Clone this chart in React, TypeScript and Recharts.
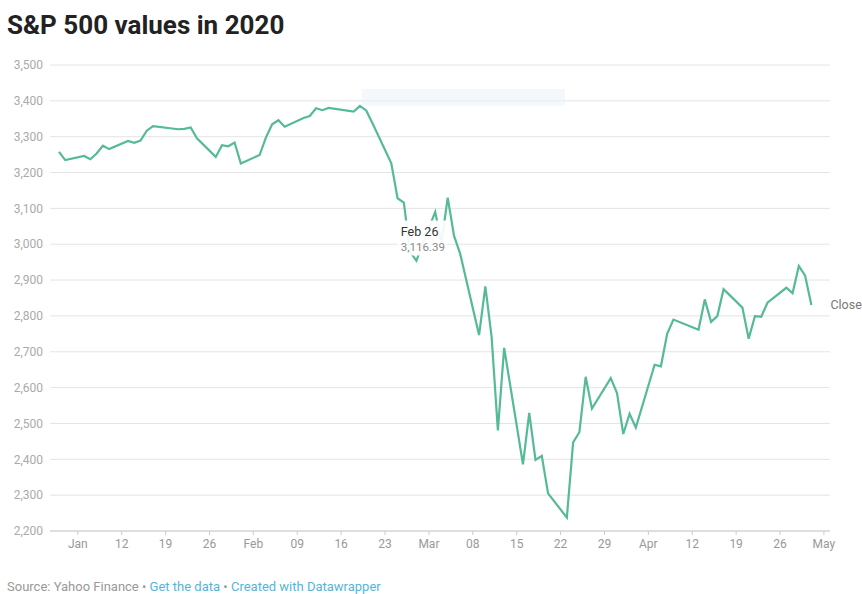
import React from 'react';
import { LineChart, Line, XAxis, YAxis, CartesianGrid, ReferenceDot, ReferenceArea, LabelList } from 'recharts';

const dates = [
  '2020-01-02', '2020-01-03', '2020-01-06', '2020-01-07', '2020-01-08', '2020-01-09', '2020-01-10',
  '2020-01-13', '2020-01-14', '2020-01-15', '2020-01-16', '2020-01-17', '2020-01-21', '2020-01-22',
  '2020-01-23', '2020-01-24', '2020-01-27', '2020-01-28', '2020-01-29', '2020-01-30', '2020-01-31',
  '2020-02-03', '2020-02-04', '2020-02-05', '2020-02-06', '2020-02-07', '2020-02-10', '2020-02-11',
  '2020-02-12', '2020-02-13', '2020-02-14', '2020-02-18', '2020-02-19', '2020-02-20', '2020-02-21',
  '2020-02-24', '2020-02-25', '2020-02-26', '2020-02-27', '2020-02-28', '2020-03-02', '2020-03-03',
  '2020-03-04', '2020-03-05', '2020-03-06', '2020-03-09', '2020-03-10', '2020-03-11', '2020-03-12',
  '2020-03-13', '2020-03-16', '2020-03-17', '2020-03-18', '2020-03-19', '2020-03-20', '2020-03-23',
  '2020-03-24', '2020-03-25', '2020-03-26', '2020-03-27', '2020-03-30', '2020-03-31', '2020-04-01',
  '2020-04-02', '2020-04-03', '2020-04-06', '2020-04-07', '2020-04-08', '2020-04-09', '2020-04-13',
  '2020-04-14', '2020-04-15', '2020-04-16', '2020-04-17', '2020-04-20', '2020-04-21', '2020-04-22',
  '2020-04-23', '2020-04-24', '2020-04-27', '2020-04-28', '2020-04-29', '2020-04-30', '2020-05-01',
];

const closes = [
  3257.85, 3234.85, 3246.28, 3237.18, 3253.05, 3274.7, 3265.35,
  3288.13, 3283.15, 3289.29, 3316.81, 3329.62, 3320.79, 3321.75,
  3325.54, 3295.47, 3243.63, 3276.24, 3273.4, 3283.66, 3225.52,
  3248.92, 3297.59, 3334.69, 3345.78, 3327.71, 3352.09, 3357.75,
  3379.45, 3373.94, 3380.16, 3370.29, 3386.15, 3373.23, 3337.75,
  3225.89, 3128.21, 3116.39, 2978.76, 2954.22, 3090.23, 3003.37,
  3130.12, 3023.94, 2972.37, 2746.56, 2882.23, 2741.38, 2480.64,
  2711.02, 2386.13, 2529.19, 2398.1, 2409.39, 2304.92, 2237.4,
  2447.33, 2475.56, 2630.07, 2541.47, 2626.65, 2584.59, 2470.5,
  2526.9, 2488.65, 2663.68, 2659.41, 2749.98, 2789.82, 2761.63,
  2846.06, 2783.36, 2799.55, 2874.56, 2823.16, 2736.56, 2799.31,
  2797.8, 2836.74, 2878.48, 2863.39, 2939.51, 2912.43, 2830.71,
];

const tickDates = [
  '2020-01-05', '2020-01-12', '2020-01-19', '2020-01-26', '2020-02-02', '2020-02-09',
  '2020-02-16', '2020-02-23', '2020-03-01', '2020-03-08', '2020-03-15', '2020-03-22',
  '2020-03-29', '2020-04-05', '2020-04-12', '2020-04-19', '2020-04-26', '2020-05-03',
];
const tickLabels = ['Jan', '12', '19', '26', 'Feb', '09', '16', '23', 'Mar', '08', '15', '22', '29', 'Apr', '12', '19', '26', 'May'];
const yTicks = [2200, 2300, 2400, 2500, 2600, 2700, 2800, 2900, 3000, 3100, 3200, 3300, 3400, 3500];

const highlight = { date: '2020-02-26', label: 'Feb 26', value: 3116.39 };

const dayOf = (s: string) => {
  const [y, m, d] = s.split('-').map(Number);
  return (Date.UTC(y, m - 1, d) - Date.UTC(2020, 0, 2)) / 86400000;
};

const chartData = dates.map((d, i) => ({
  day: dayOf(d),
  close: closes[i],
  end: i === dates.length - 1 ? 'Close' : '',
}));
const tickDays = tickDates.map(dayOf);

const COLOR = '#55ba97';

const EndLabel = (props: any) => {
  const { x, y, value } = props;
  if (!value) return null;
  return (
    <text x={x + 19} y={y} dy={4} fontSize={12.5} fill="#777">
      {value}
    </text>
  );
};

const Annotation = (props: any) => {
  const vb = props.viewBox || {};
  const cx = vb.x + (vb.width || 0) / 2;
  const cy = vb.y + (vb.height || 0) / 2;
  return (
    <g>
      <rect x={cx - 6} y={cy + 18} width={49} height={35} fill="#fff" fillOpacity={0.92} />
      <text x={cx - 3} y={cy + 33} fontSize={12.5} fill="#333">{highlight.label}</text>
      <text x={cx - 3} y={cy + 48} fontSize={11.5} fill="#888">
        {highlight.value.toLocaleString('en-US', { minimumFractionDigits: 2 })}
      </text>
    </g>
  );
};

export default function App() {
  return (
    <div style={{ position: 'absolute', left: 0, top: 0, width: 862, height: 594, background: '#fff', fontFamily: 'Roboto, sans-serif' }}>
      <div style={{ position: 'absolute', left: 7, top: 10, fontSize: 26, fontWeight: 700, color: '#222', whiteSpace: 'nowrap' }}>
        S&amp;P 500 values in 2020
      </div>
      <LineChart width={862} height={594} data={chartData} margin={{ top: 65, right: 32, bottom: 33, left: 0 }}>
        <CartesianGrid vertical={false} stroke="#e4e4e4" />
        <ReferenceArea x1={48.3} x2={80.7} y1={3387} y2={3433} fill="#eaf4f9" fillOpacity={0.6} stroke="none" />
        <XAxis
          type="number"
          dataKey="day"
          domain={[-1.435, 122.97]}
          allowDataOverflow
          ticks={tickDays}
          tickFormatter={(v: number) => tickLabels[tickDays.indexOf(v)] ?? ''}
          height={30}
          stroke="#ccc"
          tickSize={4}
          tickMargin={4}
          tick={{ fontSize: 12, fill: '#999' }}
        />
        <YAxis
          type="number"
          domain={[2200, 3500]}
          ticks={yTicks}
          width={50}
          axisLine={false}
          tickLine={false}
          tickSize={6}
          tickMargin={1}
          tickFormatter={(v: number) => v.toLocaleString('en-US')}
          tick={{ fontSize: 12, fill: '#aaa' }}
        />
        <Line type="linear" dataKey="close" stroke={COLOR} strokeWidth={2.2} dot={false} isAnimationActive={false}>
          <LabelList dataKey="end" content={EndLabel} />
        </Line>
        <ReferenceDot x={dayOf(highlight.date)} y={highlight.value} r={1} fill="none" stroke="none" label={<Annotation />} />
      </LineChart>
      <div style={{ position: 'absolute', left: 7, top: 579, fontSize: 13, color: '#999', whiteSpace: 'nowrap' }}>
        Source: Yahoo Finance • <span style={{ color: '#56b4d8' }}>Get the data</span> • <span style={{ color: '#56b4d8' }}>Created with Datawrapper</span>
      </div>
    </div>
  );
}
